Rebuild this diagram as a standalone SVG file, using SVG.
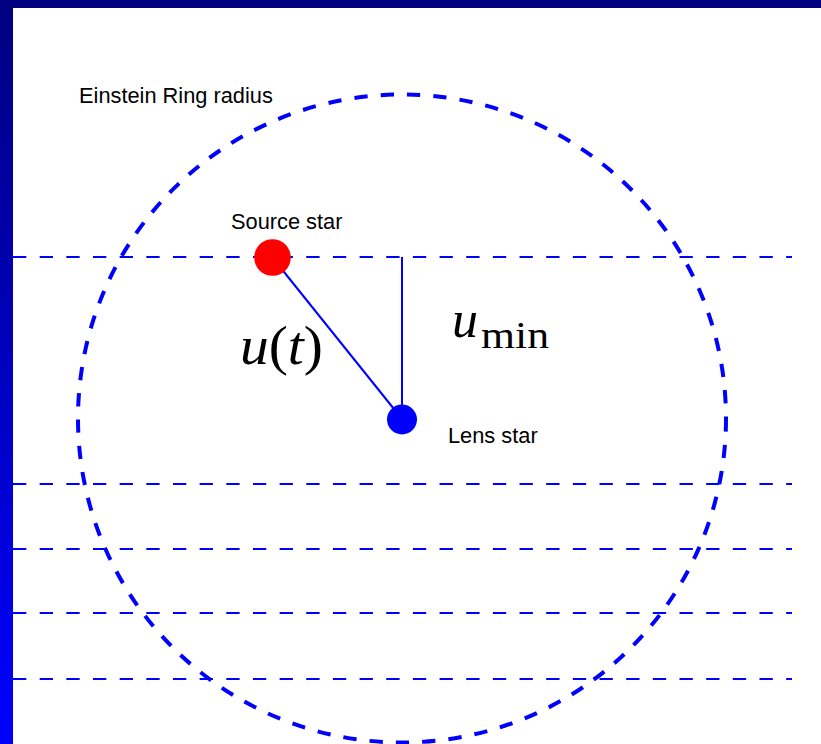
<svg xmlns="http://www.w3.org/2000/svg" width="821" height="744" viewBox="0 0 821 744">
  <defs>
    <linearGradient id="frameGrad" x1="0" y1="0" x2="0" y2="1">
      <stop offset="0" stop-color="#000080"/>
      <stop offset="1" stop-color="#0000FF"/>
    </linearGradient>
  </defs>
  <style>
    .track { stroke: #0000FF; stroke-width: 2; stroke-dasharray: 13.33 13.33; fill: none; }
    .solid { stroke: #0000FF; stroke-width: 2; fill: none; }
    .label { font-family: "Liberation Sans", Arial, sans-serif; font-size: 21.8px; fill: #000000; }
    .math { font-family: "Liberation Serif", "Times New Roman", serif; fill: #000000; }
  </style>

  <g id="frame">
    <rect x="0" y="0" width="821" height="744" fill="url(#frameGrad)"/>
    <rect x="0" y="0" width="821" height="8" fill="#000080"/>
    <rect x="13" y="8" width="808" height="736" fill="#FFFFFF"/>
  </g>

  <g id="connectors">
    <line class="track" x1="13" y1="257" x2="792" y2="257"/>
    <line class="track" x1="13" y1="484" x2="792" y2="484"/>
    <line class="track" x1="13" y1="549" x2="792" y2="549"/>
    <line class="track" x1="13" y1="613" x2="792" y2="613"/>
    <line class="track" x1="13" y1="679" x2="792" y2="679"/>
    <line class="solid" x1="272" y1="257" x2="402" y2="419"/>
    <line class="solid" x1="402" y1="257" x2="402" y2="419" stroke-width="1.6"/>
  </g>

  <g id="einstein-ring">
    <circle cx="402" cy="418.5" r="324" fill="none" stroke="#0000FF" stroke-width="4" stroke-dasharray="13.3 13.1"/>
    <text class="label" x="79" y="103">Einstein Ring radius</text>
  </g>

  <g id="source-star">
    <circle cx="272.5" cy="257.5" r="18.3" fill="#FF0000"/>
    <text class="label" x="231" y="229">Source star</text>
  </g>

  <g id="lens-star">
    <circle cx="402" cy="419.5" r="15" fill="#0000FF"/>
    <text class="label" x="448" y="443">Lens star</text>
  </g>

  <g id="label-ut">
    <text class="math" x="240" y="364" font-size="54" textLength="83" lengthAdjust="spacingAndGlyphs"><tspan font-style="italic">u</tspan>(<tspan font-style="italic">t</tspan>)</text>
  </g>

  <g id="label-umin">
    <text class="math" x="452" y="337" font-size="52" font-style="italic">u</text>
    <text class="math" x="481" y="348" font-size="38" textLength="68" lengthAdjust="spacingAndGlyphs">min</text>
  </g>
</svg>
